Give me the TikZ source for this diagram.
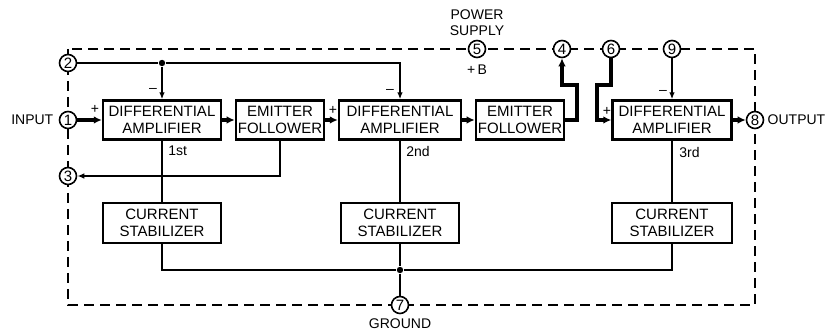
\documentclass[tikz,border=0pt]{standalone}
\usepackage{fontspec}
\setmainfont{Liberation Sans}
\usetikzlibrary{arrows.meta,positioning}
\tikzset{
    block/.style={draw, line width=1.2pt, align=center, minimum height=19.5pt, inner sep=1pt, font=\fontsize{7.5}{8.5}\selectfont},
    pin/.style={circle, draw, line width=0.8pt, fill=white, minimum size=8.5pt, inner sep=0pt, font=\fontsize{7.5}{8}\selectfont},
    sig/.style={draw, line width=1.8pt, -{Latex[length=4pt, width=3.8pt]}},
    wire/.style={draw, line width=0.75pt},
    feed/.style={draw, line width=0.75pt, -{Latex[length=3.5pt, width=2.8pt]}},
    frame/.style={draw, line width=1.3pt, dash pattern=on 5pt off 3pt},
    junction/.style={circle, fill, inner sep=0pt, minimum size=3.2pt},
    lbl/.style={inner sep=1pt, font=\fontsize{7}{8}\selectfont}
}

\begin{document}
\begin{tikzpicture}[x=0.5pt, y=-0.5pt]
    \useasboundingbox (0,0) rectangle (830,330);

    % package outline
    \draw[frame] (68,49) rectangle (755,305);

    % Nodes
    \node[block, minimum width=59pt] (da1) at (162,120) {DIFFERENTIAL\\AMPLIFIER};
    \node[block, minimum width=42pt] (ef1) at (280,120) {EMITTER\\FOLLOWER};
    \node[block, minimum width=61pt] (da2) at (400,120) {DIFFERENTIAL\\AMPLIFIER};
    \node[block, minimum width=42pt] (ef2) at (520,120) {EMITTER\\FOLLOWER};
    \node[block, minimum width=59.5pt] (da3) at (672,120) {DIFFERENTIAL\\AMPLIFIER};
    \node[block, minimum width=59pt, minimum height=20pt] (cs1) at (162,223) {CURRENT\\STABILIZER};
    \node[block, minimum width=59pt, minimum height=20pt] (cs2) at (400,223) {CURRENT\\STABILIZER};
    \node[block, minimum width=60pt, minimum height=20pt] (cs3) at (672,223) {CURRENT\\STABILIZER};

    % pins
    \node[pin] (p1) at (68,120) {1};
    \node[pin] (p2) at (68,63) {2};
    \node[pin] (p3) at (68,176) {3};
    \node[pin] (p4) at (562,49) {4};
    \node[pin] (p5) at (477,49) {5};
    \node[pin] (p6) at (611,49) {6};
    \node[pin] (p7) at (400,305) {7};
    \node[pin] (p8) at (755,120) {8};
    \node[pin] (p9) at (672,49) {9};

    \node[junction] (j2) at (162,63) {};
    \node[junction] (j7) at (400,270) {};
    \coordinate (c4) at (577,85);
    \coordinate (c6) at (597,85);

    % labels
    \node[lbl, left=1.5pt of p1] (lin) {INPUT};
    \node[lbl, right=0.5pt of p8] (lout) {OUTPUT};
    \node[lbl, above=1pt of p5, align=center] (lps) {POWER\\SUPPLY};
    \node[lbl, below=2pt of p5] (lb) {+\,B};
    \node[lbl, below=1pt of p7] (lgnd) {GROUND};
    \node[lbl] (m1) at (153,90) {--};
    \node[lbl] (m2) at (390,91) {--};
    \node[lbl] (m3) at (663,92) {--};
    \node[lbl] (s1) at (95,109) {+};
    \node[lbl] (s2) at (333,110) {+};
    \node[lbl] (s3) at (607,111) {+};
    \node[lbl, anchor=west] (n1) at (166,151) {1st};
    \node[lbl, anchor=west] (n2) at (404,152) {2nd};
    \node[lbl, anchor=west] (n3) at (677,153) {3rd};

    % signal path
    \draw[sig] (p1) -- (da1);
    \draw[sig] (da1) -- (ef1);
    \draw[sig] (ef1) -- (da2);
    \draw[sig] (da2) -- (ef2);
    \draw[sig] (ef2.east) -| (c4) -| (p4);
    \draw[sig] (p6) |- (c6) |- (da3.west);
    \draw[sig] (da3) -- (p8);

    % bias and feedback
    \draw[wire] (p2) -- (j2);
    \draw[feed] (j2) -- (da1);
    \draw[feed] (j2) -| (da2.north);
    \draw[feed] (p9) -- (da3);
    \draw[feed] (ef1.south) |- (p3);

    % current stabilizers
    \draw[wire] (da1) -- (cs1);
    \draw[wire] (da2) -- (cs2);
    \draw[wire] (da3) -- (cs3);
    \draw[wire] (cs1.south) |- (j7);
    \draw[wire] (cs3.south) |- (j7);
    \draw[wire] (cs2) -- (j7);
    \draw[wire] (j7) -- (p7);
\end{tikzpicture}
\end{document}
